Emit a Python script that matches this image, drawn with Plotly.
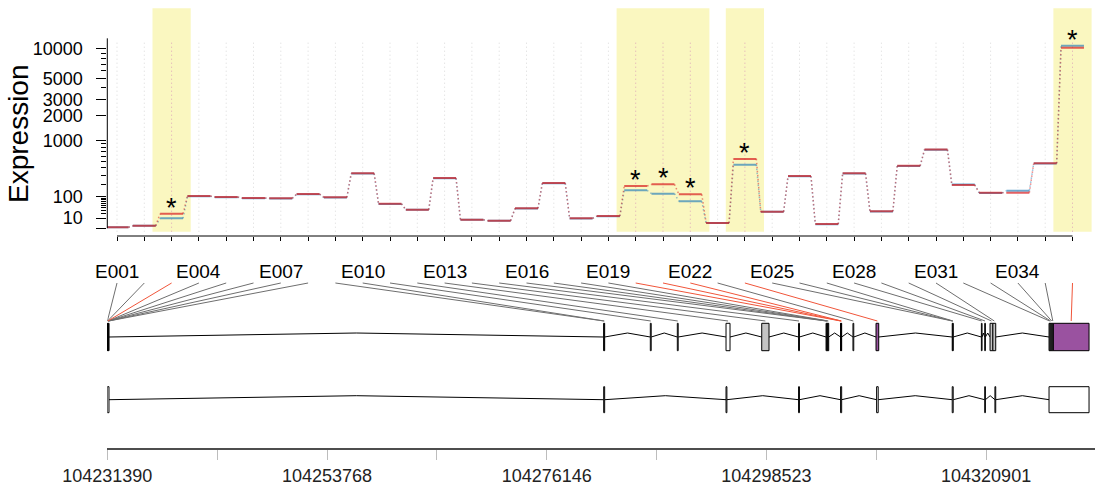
import numpy as np
import plotly.graph_objects as go

W, H = 1095, 487

# ---------------- data ----------------
exon_ids = [f"E{i:03d}" for i in range(1, 37)]

# fitted expression per condition (condition 1 = red, condition 2 = blue)
expr_cond1 = [0.1, 0.6, 20.3, 103, 96.5, 90, 88.3, 116.8, 94.6, 324, 58.6, 33.1,
              265.6, 6.9, 5.4, 38.4, 211, 9.4, 14.3, 182, 198, 114.7, 2.6, 554,
              26.3, 289.5, 1.7, 324, 27.6, 434, 754, 191.6, 126.3, 126.3, 474.6, 10254]
expr_cond2 = [0.08, 0.55, 9.4, 101, 95, 89, 87, 115, 93, 320, 57.5, 32.5,
              262, 6.7, 5.3, 37.8, 208, 9.2, 14.0, 145, 119, 71, 2.5, 451,
              25.8, 286, 1.6, 320, 27, 430, 748, 196, 125, 141.8, 470, 10713]

significant = ["E003", "E020", "E021", "E022", "E024", "E036"]

# exon bins (genomic coordinates)
bin_start = [104231390, 104231410, 104231430, 104231450, 104231470, 104231490, 104231510, 104231530,
             104281950, 104281995, 104286700, 104289450, 104294411, 104298047, 104301800,
             104304600, 104304660, 104304730, 104304800, 104306080, 104306120, 104306150,
             104307340, 104309690, 104317450, 104317480, 104317510, 104320420, 104320760,
             104321302, 104321590, 104327312, 104327420, 104327530, 104327640, 104327750]
bin_end = [104231410, 104231430, 104231450, 104231470, 104231490, 104231510, 104231530, 104231550,
           104281995, 104282050, 104286790, 104289540, 104294819, 104298791, 104301890,
           104304660, 104304730, 104304800, 104304870, 104306120, 104306150, 104306190,
           104307420, 104309965, 104317480, 104317510, 104317550, 104320490, 104320830,
           104321590, 104321882, 104327420, 104327530, 104327640, 104327750, 104331386]
# bins drawn in grey in the gene model
bin_grey = ["E014", "E030", "E031", "E032", "E033", "E034", "E035"]

# transcript exons (genomic coordinates)
tx_start = [104231390, 104281950, 104294411, 104301800, 104306080, 104309750,
            104317450, 104320760, 104321800, 104327312]
tx_end = [104231560, 104282050, 104294500, 104301890, 104306190, 104309910,
          104317550, 104320830, 104321882, 104331386]

gene_ticks = [104231390, 104242579, 104253768, 104264957, 104276146,
              104287334, 104298523, 104309712, 104320901]
gene_tick_text = ["104231390", "", "104253768", "", "104276146",
                  "", "104298523", "", "104320901"]

y_major_vals = [0, 10, 100, 1000, 2000, 3000, 5000, 10000]
y_major_text = ["", "10", "100", "1000", "2000", "3000", "5000", "10000"]
y_minor_vals = [20, 30, 40, 50, 60, 70, 80, 90, 200, 300, 400, 500, 600, 700, 800, 900,
                4000, 6000, 7000, 8000, 9000]
y_axis_top = 12700

# ---------------- helpers ----------------
def vst(x):
    return np.arcsinh(np.sqrt(0.0013 * np.asarray(x, dtype=float)))

def py(p):  # pixel row -> paper fraction
    return 1 - p / H

FONT = "Liberation Sans, Arial, Helvetica, sans-serif"
RED = "rgba(215,25,28,0.69)"
BLUE = "rgba(43,131,186,0.69)"
YELLOW = "#FAF7C0"
PURPLE = "#9A52A0"
GREY = "#C4C4C4"
LINE_RED = "#F0553A"

n = len(exon_ids)
idx = np.arange(1, n + 1)
t1 = vst(expr_cond1)
t2 = vst(expr_cond2)
sig_idx = sorted(exon_ids.index(s) + 1 for s in significant)

# top panel geometry
x_lo = 1 - (117 - 107.3) / 27.3
x_hi = 1 + (W - 117) / 27.3
t10 = float(vst(10))
y_top = t10 + (218 - 8) / 90
y_bot = t10 - (236 - 218) / 90
dom_x = [107.3 / W, 1]

# gene axis geometry
G0 = 104231390
bp_per_px = 101.856
G1 = G0 + (W - 107.3) * bp_per_px

def idx_to_gene(i):
    return G0 + (i - x_lo) / (x_hi - x_lo) * (G1 - G0)

fig = go.Figure()
shapes = []
annotations = []

# highlight rectangles for significant exon runs
runs = []
for i in sig_idx:
    if runs and i == runs[-1][1] + 1:
        runs[-1][1] = i
    else:
        runs.append([i, i])
for a, b in runs:
    shapes.append(dict(type="rect", xref="x", yref="paper", x0=a - 0.7, x1=b + 0.7,
                       y0=py(231.7), y1=py(8.3), fillcolor=YELLOW, line_width=0, layer="below"))

# dotted vertical guide lines
for i in idx:
    col = "#DDA6B8" if i in sig_idx else "#D9D9D9"
    shapes.append(dict(type="line", xref="x", yref="paper", x0=i, x1=i,
                       y0=py(231.7), y1=py(41.7),
                       line=dict(color=col, width=1, dash="1px,3px"), layer="below"))

# expression traces
hw = 0.42
for tv, col in ((t2, BLUE), (t1, RED)):
    xs, ys = [], []
    for i, v in zip(idx, tv):
        xs += [i - hw, i + hw, None]
        ys += [v, v, None]
    xd, yd = [], []
    for k in range(n - 1):
        xd += [idx[k] + hw, idx[k + 1] - hw, None]
        yd += [tv[k], tv[k + 1], None]
    fig.add_trace(go.Scatter(x=xd, y=yd, mode="lines", xaxis="x", yaxis="y",
                             line=dict(color=col.replace("0.69", "0.5"), width=1.5,
                                       dash="1.5px,2.5px"),
                             hoverinfo="skip"))
    fig.add_trace(go.Scatter(x=xs, y=ys, mode="lines", xaxis="x", yaxis="y",
                             line=dict(color=col, width=2), hoverinfo="skip"))

# asterisks
for i in sig_idx:
    annotations.append(dict(x=i, y=max(t1[i - 1], t2[i - 1]), xref="x", yref="y",
                            text="*", showarrow=False, xanchor="center", yanchor="middle",
                            yshift=6, font=dict(family=FONT, size=27, color="black")))

# axis lines (from first to last tick)
shapes.append(dict(type="line", xref="x", yref="paper", x0=1, x1=n, y0=py(236), y1=py(236),
                   line=dict(color="black", width=1)))
shapes.append(dict(type="line", xref="paper", yref="y", x0=107.3 / W, x1=107.3 / W,
                   y0=float(vst(0)), y1=float(vst(y_axis_top)),
                   line=dict(color="black", width=1)))

# y title
annotations.append(dict(x=19 / W, y=py(134), xref="paper", yref="paper", text="Expression",
                        textangle=-90, showarrow=False, xanchor="center", yanchor="middle",
                        font=dict(family=FONT, size=28, color="black")))

# ---------------- gene model ----------------
ROW1 = (323.3, 350.7)
ROW2 = (386.7, 412.7)
HAT = 4

def hats(starts, ends, row):
    base = (row[0] + row[1]) / 2
    order = np.argsort(starts)
    feats = []
    for k in order:
        s, e = starts[k], ends[k]
        if feats and s <= feats[-1][1]:
            feats[-1][1] = max(feats[-1][1], e)
        else:
            feats.append([s, e])
    xs, ys = [], []
    for (s0, e0), (s1, e1) in zip(feats[:-1], feats[1:]):
        xs += [e0, (e0 + s1) / 2, s1, None]
        ys += [base, base - HAT, base, None]
    return xs, ys

for (st, en, row) in ((bin_start, bin_end, ROW1), (tx_start, tx_end, ROW2)):
    hx, hy = hats(st, en, row)
    fig.add_trace(go.Scatter(x=hx, y=hy, mode="lines", xaxis="x2", yaxis="y2",
                             line=dict(color="black", width=1), hoverinfo="skip"))

for k, eid in enumerate(exon_ids):
    if eid in significant:
        fc = PURPLE
    elif eid in bin_grey:
        fc = GREY
    else:
        fc = "white"
    shapes.append(dict(type="rect", xref="x2", yref="y2", x0=bin_start[k], x1=bin_end[k],
                       y0=ROW1[0], y1=ROW1[1], fillcolor=fc,
                       line=dict(color="black", width=1)))
for s, e in zip(tx_start, tx_end):
    shapes.append(dict(type="rect", xref="x2", yref="y2", x0=s, x1=e,
                       y0=ROW2[0], y1=ROW2[1], fillcolor="white",
                       line=dict(color="black", width=1)))

# connector lines from labels to exon bins
for want_sig, col in ((False, "#6E6E6E"), (True, LINE_RED)):
    xs, ys = [], []
    for k, eid in enumerate(exon_ids):
        if (eid in significant) != want_sig:
            continue
        xs += [idx_to_gene(k + 1), (bin_start[k] + bin_end[k]) / 2, None]
        ys += [283, 321, None]
    fig.add_trace(go.Scatter(x=xs, y=ys, mode="lines", xaxis="x2", yaxis="y2",
                             line=dict(color=col, width=1), hoverinfo="skip"))

for k in range(0, n, 3):
    annotations.append(dict(x=idx_to_gene(k + 1), y=271, xref="x2", yref="y2",
                            text=exon_ids[k], showarrow=False,
                            font=dict(family=FONT, size=19, color="black")))

fig.update_layout(
    width=W, height=H, margin=dict(l=0, r=0, t=0, b=0),
    template="none", showlegend=False,
    paper_bgcolor="white", plot_bgcolor="rgba(0,0,0,0)",
    font=dict(family=FONT, color="black"),
    xaxis=dict(domain=dom_x, anchor="y", range=[x_lo, x_hi], tickmode="array",
               tickvals=list(idx), showticklabels=False, ticks="outside", ticklen=4,
               tickcolor="black", tickwidth=1, showgrid=False, zeroline=False,
               showline=False, automargin=False),
    yaxis=dict(domain=[py(236), py(8)], anchor="x", range=[y_bot, y_top],
               tickmode="array", tickvals=list(vst(y_major_vals)), ticktext=y_major_text,
               ticks="outside", ticklen=10, tickcolor="black", tickwidth=1,
               tickfont=dict(family=FONT, size=18, color="black"),
               ticklabelstandoff=10,
               minor=dict(tickmode="array", tickvals=list(vst(y_minor_vals)),
                          ticks="outside", ticklen=5, tickcolor="black", tickwidth=1,
                          showgrid=False),
               showgrid=False, zeroline=False, showline=False, automargin=False),
    xaxis2=dict(domain=dom_x, anchor="y2", range=[G0, G1], tickmode="array",
                tickvals=gene_ticks, ticktext=gene_tick_text, ticks="outside",
                ticklen=10, tickcolor="#BDBDBD", tickwidth=1,
                tickfont=dict(family=FONT, size=18, color="#222222"),
                showline=True, linecolor="#4D4D4D", linewidth=2,
                showgrid=False, zeroline=False, automargin=False),
    yaxis2=dict(domain=[py(448.3), 1], anchor="x2", range=[448.3, 0], visible=False,
                automargin=False),
    shapes=shapes, annotations=annotations,
)

fig.write_html("out.html", config={"displayModeBar": False},
               post_script="document.body.style.margin='0';")
